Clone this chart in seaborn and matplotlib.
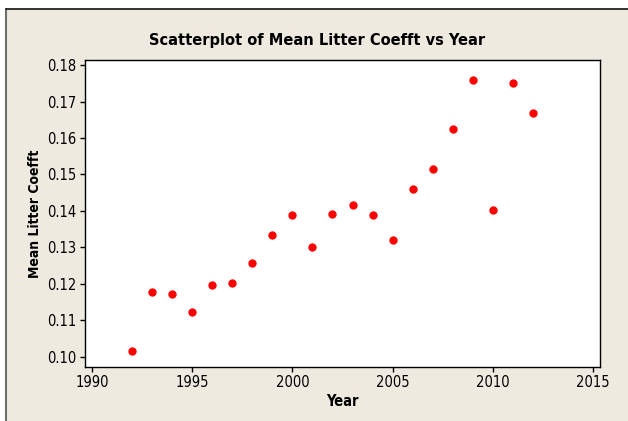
import matplotlib
matplotlib.use("Agg")
import matplotlib.pyplot as plt
import seaborn as sns
import pandas as pd
from matplotlib.patches import Rectangle
from matplotlib.lines import Line2D

years = [1992, 1993, 1994, 1995, 1996, 1997, 1998, 1999, 2000, 2001, 2002,
         2003, 2004, 2005, 2006, 2007, 2008, 2009, 2010, 2011, 2012]
coeff = [0.1016, 0.1178, 0.1172, 0.1122, 0.1196, 0.1204, 0.1258, 0.1333, 0.1390,
         0.1300, 0.1393, 0.1417, 0.1390, 0.1321, 0.1459, 0.1514, 0.1625, 0.1758,
         0.1402, 0.1752, 0.1668]
xticks = [1990, 1995, 2000, 2005, 2010, 2015]
yticks = [0.10, 0.11, 0.12, 0.13, 0.14, 0.15, 0.16, 0.17, 0.18]

df = pd.DataFrame({"Year": years, "Mean Litter Coefft": coeff})

sns.set_style("white")
plt.rcParams["font.family"] = ["DejaVu Sans"]
plt.rcParams["font.stretch"] = "condensed"

W, H = 628, 421
bg = "#EEEAE0"
fig = plt.figure(figsize=(W / 100, H / 100), dpi=100, facecolor=bg)
# white strips on top and left
fig.patches.append(Rectangle((0, (H - 9) / H), 1, 9 / H, transform=fig.transFigure,
                             facecolor="white", edgecolor="none"))
fig.patches.append(Rectangle((0, 0), 5 / W, 1, transform=fig.transFigure,
                             facecolor="white", edgecolor="none"))
fig.lines.append(Line2D([5.5 / W, 5.5 / W], [0, (H - 9) / H], transform=fig.transFigure,
                        color="#6e6e6e", lw=1.5))
fig.lines.append(Line2D([5.5 / W, 1], [(H - 9) / H, (H - 9) / H], transform=fig.transFigure,
                        color="#111111", lw=1.2))

ax = fig.add_axes([85 / W, (H - 367) / H, (600 - 85) / W, (367 - 60) / H])
sns.scatterplot(data=df, x="Year", y="Mean Litter Coefft", ax=ax,
                color="#FF0000", s=36, linewidth=0, legend=False)

ax.set_xlim(1989.65, 2015.35)
ax.set_ylim(0.09726, 0.18137)
ax.set_xticks(xticks)
ax.set_yticks(yticks)
ax.set_yticklabels([f"{v:.2f}" for v in yticks])
ax.tick_params(axis="both", which="both", direction="out", length=3.5, width=1,
               color="black", labelsize=10.5, labelcolor="black",
               left=True, bottom=True, pad=2.5)
for sp in ax.spines.values():
    sp.set_visible(True)
    sp.set_color("black")
    sp.set_linewidth(1)
ax.set_facecolor("white")

ax.set_xlabel("Year", fontsize=10.5, fontweight="bold", color="black", labelpad=3)
ax.set_ylabel("Mean Litter Coefft", fontsize=10, fontweight="bold", color="black", labelpad=4)
fig.text(317 / W, 1 - 40 / H, "Scatterplot of Mean Litter Coefft vs Year",
         ha="center", va="center", fontsize=11.7, fontweight="bold", color="black")

fig.savefig("out.png", dpi=100, facecolor=bg)
